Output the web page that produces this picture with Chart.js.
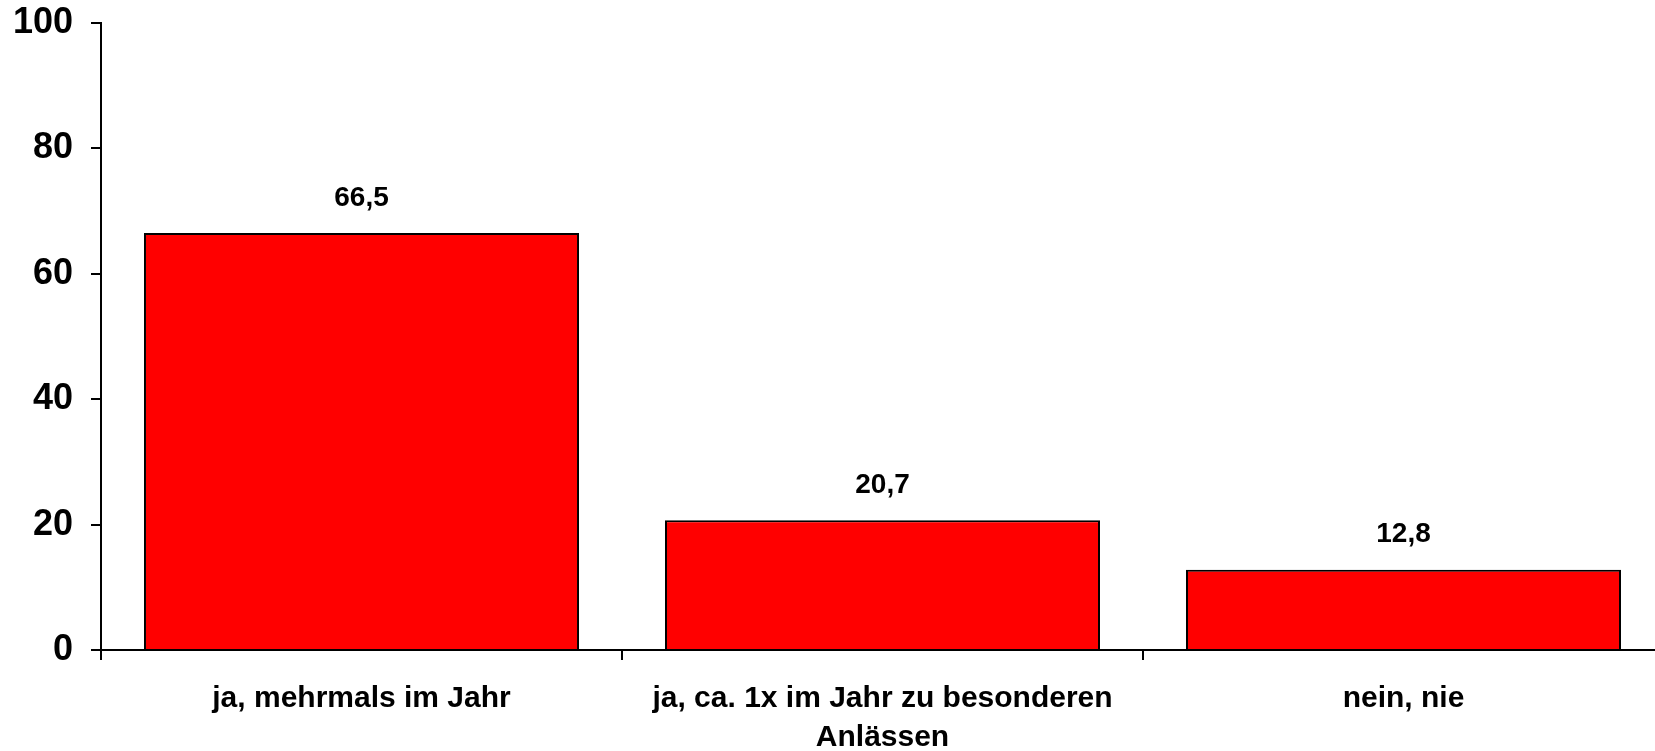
<!DOCTYPE html>
<html>
<head>
<meta charset="utf-8">
<script src="https://cdn.jsdelivr.net/npm/chart.js@4/dist/chart.umd.min.js"></script>
<style>
html,body{margin:0;padding:0;background:#fff;overflow:hidden;}
#wrap{width:1655px;height:751px;overflow:hidden;position:relative;}
#c{position:absolute;left:0;top:0;}
</style>
</head>
<body>
<div id="wrap"><canvas id="c" width="1664" height="751"></canvas></div>
<script>
const categories = [
  "ja, mehrmals im Jahr",
  ["ja, ca. 1x im Jahr zu besonderen", "Anlässen"],
  "nein, nie"
];
const values = [66.5, 20.7, 12.8];
const yTicks = [0, 20, 40, 60, 80, 100];

const FONT = "'Liberation Sans', Arial, sans-serif";

const valueLabels = {
  id: 'valueLabels',
  afterDatasetsDraw(chart) {
    const ctx = chart.ctx;
    const meta = chart.getDatasetMeta(0);
    ctx.save();
    ctx.font = "bold 28px " + FONT;
    ctx.fillStyle = "#000";
    ctx.textAlign = "center";
    ctx.textBaseline = "middle";
    meta.data.forEach((bar, i) => {
      const v = chart.data.datasets[0].data[i];
      ctx.fillText(v.toFixed(1).replace('.', ','), bar.x, bar.y - 35);
    });
    ctx.restore();
  }
};

new Chart(document.getElementById('c'), {
  type: 'bar',
  data: {
    labels: categories,
    datasets: [{
      data: values,
      backgroundColor: '#FF0000',
      borderColor: '#000000',
      borderWidth: 2,
      borderSkipped: 'bottom',
      categoryPercentage: 1.0,
      barPercentage: 0.835
    }]
  },
  options: {
    responsive: false,
    animation: false,
    devicePixelRatio: 1,
    layout: { padding: { top: 23, right: 0, left: 0, bottom: 0 } },
    plugins: {
      legend: { display: false },
      tooltip: { enabled: false }
    },
    scales: {
      x: {
        grid: {
          offset: true,
          drawOnChartArea: false,
          drawTicks: true,
          tickLength: 10,
          color: '#000',
          lineWidth: 2
        },
        border: { display: true, color: '#000', width: 2 },
        ticks: {
          color: '#000',
          font: { family: FONT, size: 30, weight: 'bold', lineHeight: 1.3 },
          padding: 19,
          maxRotation: 0,
          autoSkip: false
        },
        afterFit(scale) {
          scale.height = 101;
          scale.paddingLeft = 0;
          scale.paddingRight = 0;
        }
      },
      y: {
        min: 0,
        max: 100,
        afterBuildTicks(scale) { scale.ticks = yTicks.map(v => ({ value: v })); },
        grid: {
          drawOnChartArea: false,
          drawTicks: true,
          tickLength: 10,
          color: '#000',
          lineWidth: 2
        },
        border: { display: true, color: '#000', width: 2 },
        ticks: {
          color: '#000',
          font: { family: FONT, size: 36, weight: 'bold' },
          padding: 18
        },
        afterFit(scale) {
          scale.width = 101;
          scale.paddingTop = 0;
          scale.paddingBottom = 0;
        }
      }
    }
  },
  plugins: [valueLabels]
});
</script>
</body>
</html>
